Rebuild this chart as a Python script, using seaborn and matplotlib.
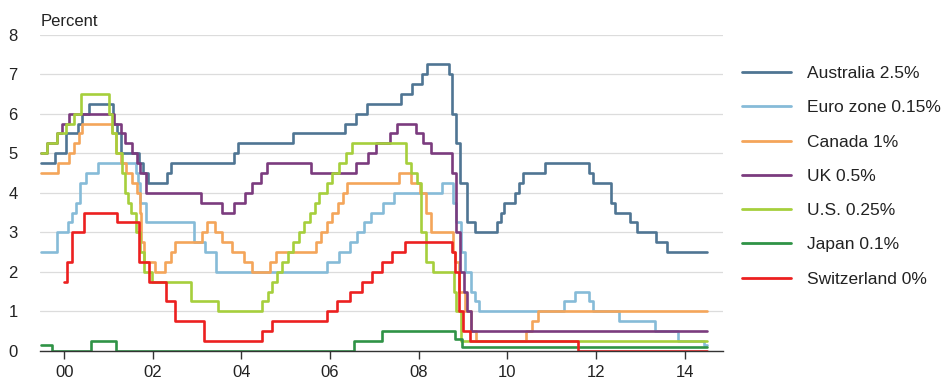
import matplotlib
matplotlib.use("Agg")
import matplotlib.pyplot as plt
import seaborn as sns
import pandas as pd

# ---------------- data (decimal year of change, policy rate %) ----------------
series_names = ["Australia 2.5%", "Euro zone 0.15%", "Canada 1%", "UK 0.5%",
                "U.S. 0.25%", "Japan 0.1%", "Switzerland 0%"]

aus_dates = [1999.47, 1999.80, 2000.05, 2000.30, 2000.40, 2000.57, 2001.10, 2001.18, 2001.27,
             2001.68, 2001.77, 2001.90, 2002.33, 2002.42, 2003.84, 2003.92, 2005.17, 2006.33,
             2006.58, 2006.84, 2007.60, 2007.85, 2008.08, 2008.18, 2008.68, 2008.76, 2008.85,
             2008.93, 2009.10, 2009.26, 2009.76, 2009.85, 2009.93, 2010.17, 2010.26, 2010.35,
             2010.84, 2011.84, 2011.93, 2012.35, 2012.43, 2012.76, 2012.93, 2013.35, 2013.60]
aus_rates = [4.75, 5.0, 5.5, 5.75, 6.0, 6.25, 5.75, 5.5, 5.0,
             4.75, 4.5, 4.25, 4.5, 4.75, 5.0, 5.25, 5.5, 5.75,
             6.0, 6.25, 6.5, 6.75, 7.0, 7.25, 7.0, 6.0, 5.25,
             4.25, 3.25, 3.0, 3.25, 3.5, 3.75, 4.0, 4.25, 4.5,
             4.75, 4.5, 4.25, 3.75, 3.5, 3.25, 3.0, 2.75, 2.5]

eur_dates = [1999.47, 1999.84, 2000.09, 2000.17, 2000.26, 2000.35, 2000.50, 2000.76, 2001.62,
             2001.67, 2001.72, 2001.85, 2002.92, 2003.18, 2003.43, 2005.93, 2006.19, 2006.44,
             2006.60, 2006.77, 2006.93, 2007.19, 2007.45, 2008.52, 2008.77, 2008.85, 2008.95,
             2009.05, 2009.18, 2009.28, 2009.36, 2011.27, 2011.52, 2011.85, 2011.94, 2012.52,
             2013.34, 2013.85, 2014.43]
eur_rates = [2.5, 3.0, 3.25, 3.5, 3.75, 4.25, 4.5, 4.75, 4.5,
             4.25, 3.75, 3.25, 2.75, 2.5, 2.0, 2.25, 2.5, 2.75,
             3.0, 3.25, 3.5, 3.75, 4.0, 4.25, 3.75, 3.25, 2.5,
             2.0, 1.5, 1.25, 1.0, 1.25, 1.5, 1.25, 1.0, 0.75,
             0.5, 0.25, 0.15]

can_dates = [1999.47, 1999.87, 2000.10, 2000.23, 2000.33, 2000.40, 2001.08, 2001.17, 2001.29,
             2001.40, 2001.54, 2001.65, 2001.71, 2001.74, 2001.80, 2002.04, 2002.27, 2002.40,
             2002.50, 2003.10, 2003.23, 2003.40, 2003.55, 2003.78, 2004.05, 2004.23, 2004.65,
             2004.77, 2005.68, 2005.80, 2005.92, 2006.05, 2006.18, 2006.28, 2006.38, 2007.55,
             2007.83, 2008.04, 2008.16, 2008.27, 2008.78, 2008.83, 2008.92, 2009.05, 2009.17,
             2009.30, 2010.43, 2010.55, 2010.70]
can_rates = [4.5, 4.75, 5.0, 5.25, 5.5, 5.75, 5.5, 5.0, 4.75,
             4.5, 4.25, 4.0, 3.5, 2.75, 2.25, 2.0, 2.25, 2.5,
             2.75, 3.0, 3.25, 3.0, 2.75, 2.5, 2.25, 2.0, 2.25,
             2.5, 2.75, 3.0, 3.25, 3.5, 3.75, 4.0, 4.25, 4.5,
             4.25, 4.0, 3.5, 3.0, 2.5, 2.25, 1.5, 1.0, 0.5,
             0.25, 0.5, 0.75, 1.0]

uk_dates = [1999.47, 1999.62, 1999.84, 1999.96, 2000.10, 2001.12, 2001.27, 2001.38, 2001.54,
            2001.64, 2001.72, 2001.84, 2003.08, 2003.56, 2003.83, 2004.09, 2004.24, 2004.43,
            2004.58, 2005.58, 2006.59, 2006.86, 2007.03, 2007.35, 2007.52, 2007.93, 2008.10,
            2008.27, 2008.76, 2008.85, 2008.93, 2009.02, 2009.10, 2009.18]
uk_rates = [5.0, 5.25, 5.5, 5.75, 6.0, 5.75, 5.5, 5.25, 5.0,
            4.75, 4.5, 4.0, 3.75, 3.5, 3.75, 4.0, 4.25, 4.5,
            4.75, 4.5, 4.75, 5.0, 5.25, 5.5, 5.75, 5.5, 5.25,
            5.0, 4.5, 3.0, 2.0, 1.5, 1.0, 0.5]

us_dates = [1999.47, 1999.62, 1999.84, 2000.04, 2000.22, 2000.38, 2001.00, 2001.08, 2001.17,
            2001.30, 2001.38, 2001.45, 2001.50, 2001.62, 2001.70, 2001.80, 2001.99, 2002.85,
            2003.48, 2004.47, 2004.60, 2004.70, 2004.80, 2004.92, 2005.04, 2005.17, 2005.29,
            2005.40, 2005.55, 2005.66, 2005.75, 2005.92, 2006.05, 2006.20, 2006.35, 2006.50,
            2007.71, 2007.83, 2007.96, 2008.05, 2008.17, 2008.33, 2008.80, 2008.85, 2008.96]
us_rates = [5.0, 5.25, 5.5, 5.75, 6.0, 6.5, 6.0, 5.5, 5.0,
            4.5, 4.0, 3.75, 3.5, 3.0, 2.5, 2.0, 1.75, 1.25,
            1.0, 1.25, 1.5, 1.75, 2.0, 2.25, 2.5, 2.75, 3.0,
            3.25, 3.5, 3.75, 4.0, 4.25, 4.5, 4.75, 5.0, 5.25,
            4.75, 4.5, 4.25, 3.0, 2.25, 2.0, 1.5, 1.0, 0.25]

jpn_dates = [1999.47, 1999.73, 2000.60, 2001.16, 2006.53, 2007.17, 2008.82, 2008.97]
jpn_rates = [0.15, 0.0, 0.25, 0.0, 0.25, 0.5, 0.3, 0.1]

che_dates = [2000.00, 2000.07, 2000.18, 2000.44, 2001.20, 2001.68, 2001.91, 2002.29, 2002.51,
             2003.15, 2004.47, 2004.69, 2005.93, 2006.16, 2006.46, 2006.72, 2006.95, 2007.17,
             2007.40, 2007.70, 2008.75, 2008.82, 2008.90, 2009.00, 2009.16, 2011.60]
che_rates = [1.75, 2.25, 3.0, 3.5, 3.25, 2.25, 1.75, 1.25, 0.75,
             0.25, 0.5, 0.75, 1.0, 1.25, 1.5, 1.75, 2.0, 2.25,
             2.5, 2.75, 2.5, 2.0, 1.0, 0.5, 0.25, 0.0]

end_date = 2014.5

tick_years = [2000, 2002, 2004, 2006, 2008, 2010, 2012, 2014]
tick_labels = ["00", "02", "04", "06", "08", "10", "12", "14"]
y_ticks = [0, 1, 2, 3, 4, 5, 6, 7, 8]

colors = ["#4f7593", "#86bbd8", "#f4a55a", "#7b3b7e", "#a6cf3c", "#2f9346", "#ec2020"]

# ---------------- build long table ----------------
all_dates = [aus_dates, eur_dates, can_dates, uk_dates, us_dates, jpn_dates, che_dates]
all_rates = [aus_rates, eur_rates, can_rates, uk_rates, us_rates, jpn_rates, che_rates]
rows = []
for name, d, r in zip(series_names, all_dates, all_rates):
    for x, y in zip(list(d) + [end_date], list(r) + [r[-1]]):
        rows.append({"date": x, "rate": y, "series": name})
df = pd.DataFrame(rows)

# ---------------- draw ----------------
sns.set_style("white")
plt.rcParams["font.family"] = ["Liberation Sans", "DejaVu Sans"]

fig = plt.figure(figsize=(9.49, 3.81), dpi=100)
ax = fig.add_axes([0.042, 0.079, 0.720, 0.830])

sns.lineplot(data=df, x="date", y="rate", hue="series", hue_order=series_names,
             palette=colors, estimator=None, sort=True, drawstyle="steps-post",
             linewidth=1.9, ax=ax)

ax.set_xlim(1999.45, 2014.87)
ax.set_ylim(0, 8)
ax.set_yticks(y_ticks)
ax.set_yticklabels([str(v) for v in y_ticks])
ax.set_xticks(tick_years)
ax.set_xticklabels(tick_labels)
ax.set_xlabel("")
ax.set_ylabel("")

ax.yaxis.grid(True, color="#dcdcdc", linewidth=0.9)
ax.set_axisbelow(True)
for s in ["top", "right", "left"]:
    ax.spines[s].set_visible(False)
ax.spines["bottom"].set_color("#333333")
ax.spines["bottom"].set_linewidth(1.0)
ax.tick_params(axis="y", length=0, pad=16, labelsize=12, labelcolor="#222222")
ax.tick_params(axis="x", direction="out", length=6, width=1.0, color="#333333",
               pad=4, labelsize=12, labelcolor="#222222", bottom=True)

fig.text(41 / 949, 1 - 26 / 381, "Percent", fontsize=12, color="#222222",
         ha="left", va="baseline")

leg = ax.legend(loc="upper left", bbox_to_anchor=(742 / 949, 1 - 66 / 381),
                bbox_transform=fig.transFigure, frameon=False, fontsize=12.5,
                handlelength=2.85, handletextpad=0.9, labelspacing=1.1,
                borderpad=0, borderaxespad=0)
for t in leg.get_texts():
    t.set_color("#222222")
for h in leg.get_lines():
    h.set_linewidth(2.0)

fig.savefig("out.png", dpi=100)
